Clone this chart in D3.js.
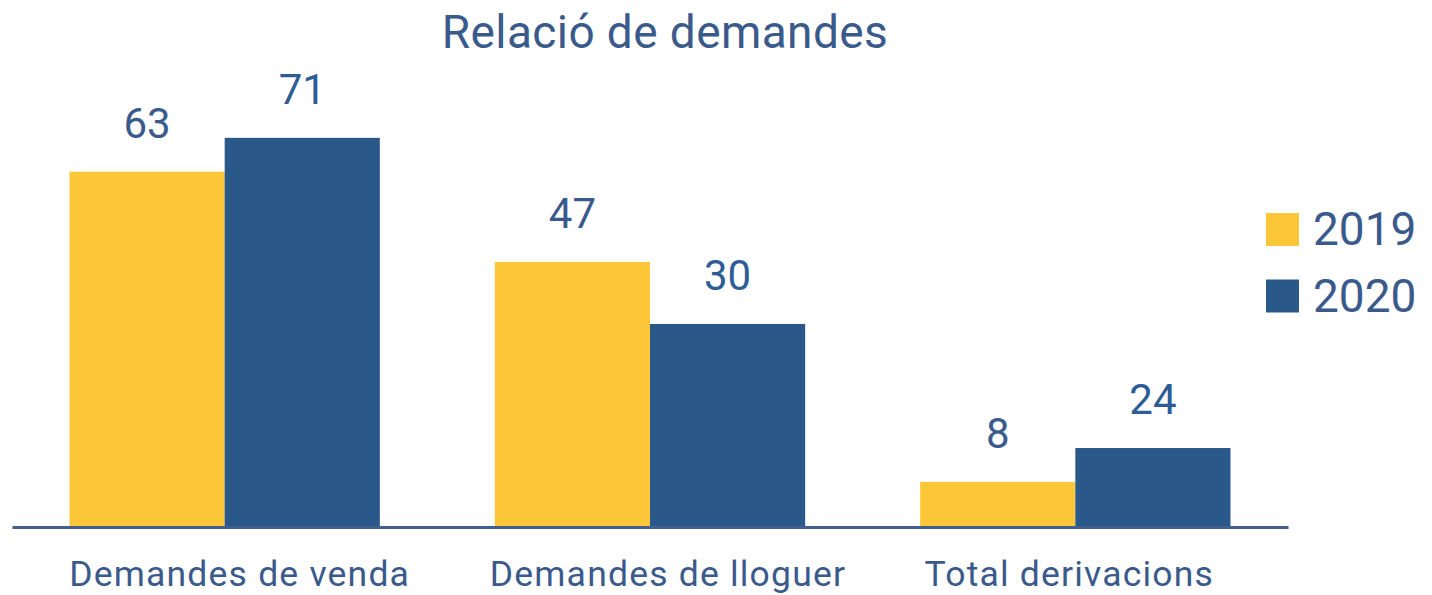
<!DOCTYPE html>
<html><head><meta charset="utf-8">
<script src="https://cdn.jsdelivr.net/npm/d3@7"></script>
<style>html,body{margin:0;padding:0;background:#fff;}svg{display:block;font-family:Roboto,"Noto Sans",sans-serif;}</style>
</head><body>
<svg id="chart" width="1432" height="595"></svg>
<script>
const title = "Relació de demandes";
const categories = ["Demandes de venda", "Demandes de lloguer", "Total derivacions"];
const seriesNames = ["2019", "2020"];
// values shown in the labels
const values2019 = [63, 47, 8];
const values2020 = [71, 30, 24];
// bar lengths as drawn in the source (units of the value axis)
const bars2019 = [63, 47, 8];
const bars2020 = [69, 36, 14];
const colors = ["#FBC638", "#2A5889"];
const labelColors = ["#3B5A8C", "#2D5D94"];
const textColor = "#3B5A8C";
// horizontal nudges of the category labels (layout, px)
const catLabelShift = [15, 18, -6];

const svg = d3.select("#chart");
const x0 = d3.scaleBand().domain(categories).range([12, 1288]).paddingInner(0).paddingOuter(0);
const innerPad = 115;
const x1 = d3.scaleBand().domain(seriesNames).range([0, x0.bandwidth() - innerPad]);
const y = d3.scaleLinear().domain([0, 80]).range([527, 527 - 80 * 5.64]);

const data = categories.map((c, i) => ({
  cat: c,
  items: [
    {s: seriesNames[0], v: bars2019[i], label: values2019[i], k: 0},
    {s: seriesNames[1], v: bars2020[i], label: values2020[i], k: 1}
  ]
}));

const g = svg.append("g");
const groups = g.selectAll("g.grp").data(data).join("g")
  .attr("transform", d => `translate(${x0(d.cat) + innerPad / 2},0)`);

groups.selectAll("rect").data(d => d.items).join("rect")
  .attr("x", d => x1(d.s))
  .attr("width", x1.bandwidth())
  .attr("y", d => y(d.v))
  .attr("height", d => y(0) - y(d.v))
  .attr("fill", d => colors[d.k]);

groups.selectAll("text.val").data(d => d.items).join("text")
  .attr("class", "val")
  .attr("x", d => x1(d.s) + x1.bandwidth() / 2)
  .attr("y", d => y(d.v) - 34)
  .attr("text-anchor", "middle")
  .attr("font-size", 42)
  .attr("fill", d => labelColors[d.k])
  .text(d => d.label);

// axis
const xAxis = d3.axisBottom(x0).tickSize(0).tickPadding(0);
const ax = svg.append("g").attr("transform", `translate(0,${y(0)})`).call(xAxis);
ax.select(".domain").attr("stroke", "#41608F").attr("stroke-width", 3);
ax.selectAll(".tick text")
  .attr("font-size", 35.5)
  .attr("fill", textColor)
  .attr("font-family", "Roboto")
  .attr("letter-spacing", "1.2px")
  .attr("dy", 0)
  .attr("y", 59)
  .attr("x", (d, i) => catLabelShift[i]);

// title
svg.append("text")
  .attr("x", 665).attr("y", 48)
  .attr("text-anchor", "middle")
  .attr("font-size", 46)
  .attr("letter-spacing", "0.4px")
  .attr("fill", textColor)
  .text(title);

// legend
const leg = svg.append("g").attr("transform", "translate(1266,213)");
const li = leg.selectAll("g").data(seriesNames).join("g")
  .attr("transform", (d, i) => `translate(0,${i * 66.5})`);
li.append("rect").attr("width", 33).attr("height", 33).attr("fill", (d, i) => colors[i]);
li.append("text").attr("x", 47).attr("y", 32).attr("font-size", 46).attr("fill", textColor).text(d => d);
</script>
</body></html>
